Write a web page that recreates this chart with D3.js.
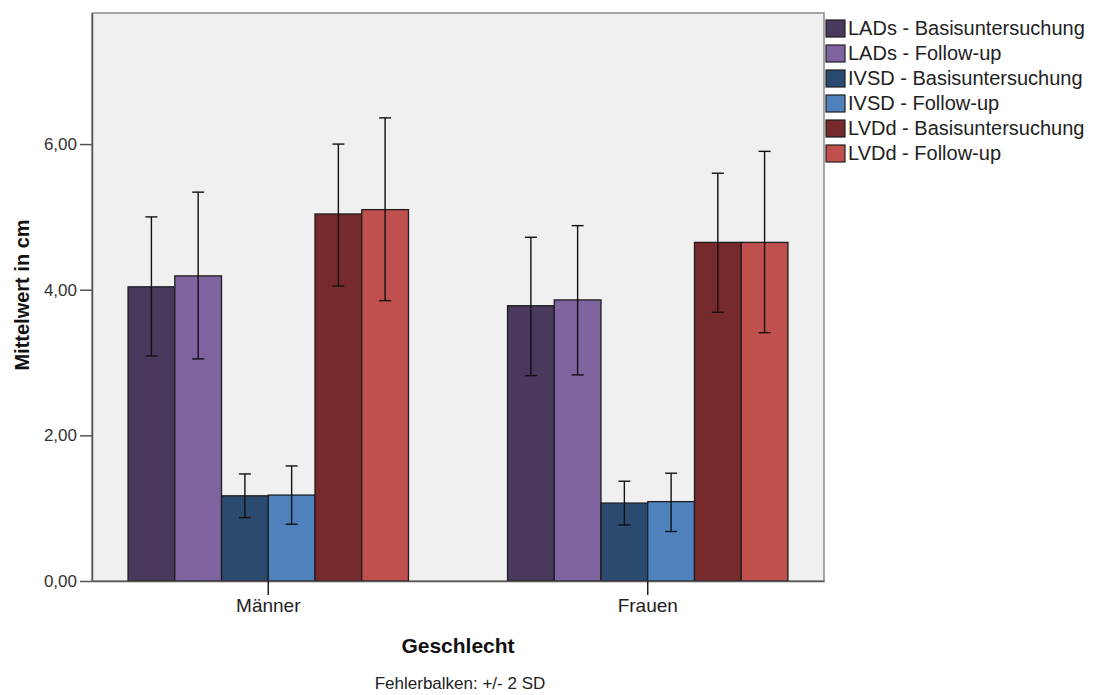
<!DOCTYPE html>
<html>
<head>
<meta charset="utf-8">
<script src="https://cdn.jsdelivr.net/npm/d3@7"></script>
<style>
  body { margin: 0; background: #fff; }
  svg { font-family: "Liberation Sans", Arial, sans-serif; }
</style>
</head>
<body>
<svg class="chart"></svg>
<script>
// data
let groups = ['Männer', 'Frauen']
let series = ['LADs - Basisuntersuchung', 'LADs - Follow-up', 'IVSD - Basisuntersuchung',
  'IVSD - Follow-up', 'LVDd - Basisuntersuchung', 'LVDd - Follow-up']
let colorGroup = ['#493a5d', '#8064a0', '#2a4a70', '#4f81bd', '#772a2b', '#c0504d']

// mean per series, one array per group
let meanMaenner = [4.04, 4.19, 1.17, 1.18, 5.04, 5.10]
let meanFrauen = [3.78, 3.86, 1.07, 1.09, 4.65, 4.65]
// error bar bounds (+/- 2 SD)
let upperMaenner = [5.00, 5.34, 1.47, 1.58, 6.00, 6.36]
let lowerMaenner = [3.09, 3.05, 0.87, 0.78, 4.05, 3.85]
let upperFrauen = [4.72, 4.88, 1.37, 1.48, 5.60, 5.90]
let lowerFrauen = [2.82, 2.83, 0.77, 0.68, 3.69, 3.41]

let yTicks = [0, 2, 4, 6]

let means = [meanMaenner, meanFrauen]
let uppers = [upperMaenner, upperFrauen]
let lowers = [lowerMaenner, lowerFrauen]

let svg_width = 1098, svg_height = 695
let plot = { left: 92, top: 13, right: 824, bottom: 581 }

let svg = d3.select('.chart')
  .attr('width', svg_width)
  .attr('height', svg_height)

let scaleX = d3.scaleBand()
  .domain(groups)
  .range([plot.left, plot.right])
  .paddingInner(0.261)
  .paddingOuter(0.095)

let scaleX2 = d3.scaleBand()
  .domain(d3.range(series.length))
  .range([0, scaleX.bandwidth()])

let scaleY = d3.scaleLinear()
  .domain([0, 7.8])
  .range([plot.bottom, plot.top])

// plot background
svg.append('rect')
  .attr('x', plot.left)
  .attr('y', plot.top)
  .attr('width', plot.right - plot.left)
  .attr('height', plot.bottom - plot.top)
  .attr('fill', '#f0f0f0')
  .attr('stroke', '#8a8a8a')
  .attr('stroke-width', 1.5)

// bars
let g = svg.selectAll('.group')
  .data(groups)
  .enter()
  .append('g')
  .attr('class', 'group')
  .attr('transform', d => translate(scaleX(d), 0))

g.selectAll('rect')
  .data((d, gi) => means[gi].map((v, si) => ({ v: v, si: si })))
  .enter()
  .append('rect')
  .attr('x', d => scaleX2(d.si))
  .attr('y', d => scaleY(d.v))
  .attr('width', scaleX2.bandwidth())
  .attr('height', d => scaleY(0) - scaleY(d.v))
  .attr('fill', d => colorGroup[d.si])
  .attr('stroke', '#1e1e1e')
  .attr('stroke-width', 1.3)

// error bars
let eb = g.selectAll('.err')
  .data((d, gi) => uppers[gi].map((u, si) => ({ u: u, l: lowers[gi][si], si: si })))
  .enter()
  .append('g')
  .attr('class', 'err')
  .attr('transform', d => translate(scaleX2(d.si) + scaleX2.bandwidth() / 2, 0))
  .attr('stroke', '#111')
  .attr('stroke-width', 1.4)

eb.append('line')
  .attr('x1', 0).attr('x2', 0)
  .attr('y1', d => scaleY(d.u))
  .attr('y2', d => scaleY(d.l))
eb.append('line')
  .attr('x1', -6).attr('x2', 6)
  .attr('y1', d => scaleY(d.u))
  .attr('y2', d => scaleY(d.u))
eb.append('line')
  .attr('x1', -6).attr('x2', 6)
  .attr('y1', d => scaleY(d.l))
  .attr('y2', d => scaleY(d.l))

// axes
let axisY = d3.axisLeft(scaleY)
  .tickValues(yTicks)
  .tickSize(12)
  .tickSizeOuter(0)
  .tickPadding(3)
  .tickFormat(d => d3.format('.2f')(d).replace('.', ','))

svg.append('g')
  .attr('transform', translate(plot.left, 0))
  .call(axisY)
  .call(a => {
    a.select('.domain').attr('stroke', '#555').attr('stroke-width', 1.5)
    a.selectAll('.tick line').attr('stroke', '#555').attr('stroke-width', 1.5)
    a.selectAll('.tick text').attr('fill', '#333').style('font-size', '17px')
      .style('font-family', '"Liberation Sans", Arial, sans-serif')
  })

let axisX = d3.axisBottom(scaleX)
  .tickSize(14)
  .tickSizeOuter(0)
  .tickPadding(4)

svg.append('g')
  .attr('transform', translate(0, plot.bottom))
  .call(axisX)
  .call(a => {
    a.select('.domain').attr('stroke', '#555').attr('stroke-width', 1.5)
    a.selectAll('.tick line').attr('stroke', '#222').attr('stroke-width', 1.5)
    a.selectAll('.tick text').attr('fill', '#222').style('font-size', '19px')
      .style('font-family', '"Liberation Sans", Arial, sans-serif')
  })

// titles
svg.append('text')
  .attr('transform', translate(29, 295) + ' rotate(-90)')
  .attr('text-anchor', 'middle')
  .style('font-size', '20px')
  .style('font-weight', 'bold')
  .attr('fill', '#111')
  .text('Mittelwert in cm')

svg.append('text')
  .attr('x', 458).attr('y', 653)
  .attr('text-anchor', 'middle')
  .style('font-size', '21px')
  .style('font-weight', 'bold')
  .attr('fill', '#111')
  .text('Geschlecht')

svg.append('text')
  .attr('x', 460).attr('y', 689)
  .attr('text-anchor', 'middle')
  .style('font-size', '17px')
  .attr('fill', '#222')
  .text('Fehlerbalken: +/- 2 SD')

// legend
let legend = svg.selectAll('.legend')
  .data(series)
  .enter()
  .append('g')
  .attr('class', 'legend')
  .attr('transform', (d, i) => translate(826, 20 + i * 25))

legend.append('rect')
  .attr('width', 19)
  .attr('height', 17)
  .attr('fill', (d, i) => colorGroup[i])
  .attr('stroke', '#1e1e1e')
  .attr('stroke-width', 1.2)

legend.append('text')
  .attr('x', 22)
  .attr('y', 15)
  .style('font-size', '20px')
  .attr('fill', '#222')
  .text(d => d)

function translate(x, y) {
  return 'translate(' + x + ',' + y + ')';
}
</script>
</body>
</html>
